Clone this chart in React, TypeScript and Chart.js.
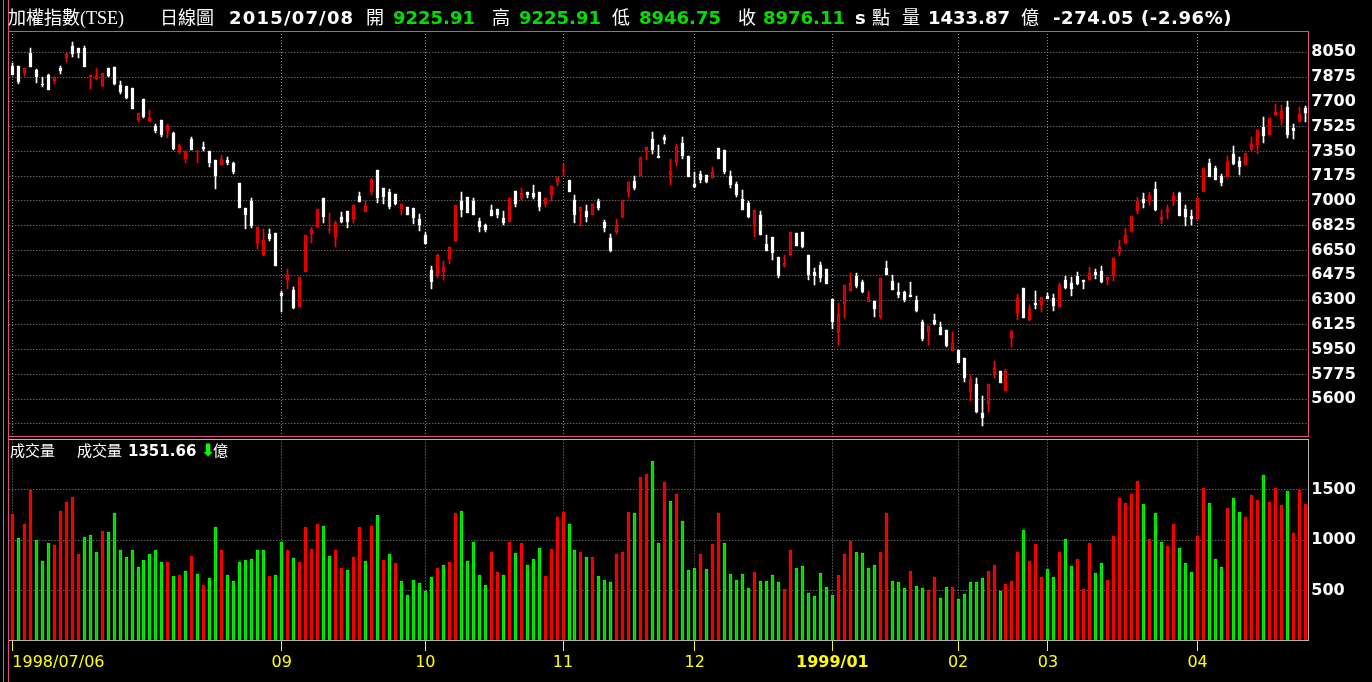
import React, { useEffect, useRef } from 'react';
import { Chart, registerables } from 'chart.js';

Chart.register(...registerables);

// ---- Daily OHLC of 加權指數 (TSE), 1998/07/06 .. 1999/04 ----
const openPx = [
  7953, 7953, 7906, 8047, 7925, 7819, 7890, 7850, 7939, 8012,
  8094, 8078, 8078, 7874, 7861, 7812, 7939, 7949, 7819, 7812,
  7798, 7572, 7720, 7567, 7530, 7572, 7497, 7480, 7356, 7299,
  7440, 7346, 7384, 7353, 7290, 7257, 7292, 7268, 7127, 6951,
  7000, 6706, 6617, 6767, 6774, 6351, 6445, 6372, 6249, 6501,
  6769, 6819, 7019, 6795, 6744, 6888, 6928, 6873, 7035, 6925,
  7064, 7219, 7092, 7064, 7050, 6944, 6958, 6951, 6873, 6760,
  6513, 6471, 6499, 6591, 6718, 7000, 7028, 7000, 6859, 6831,
  6937, 6944, 6880, 6854, 7071, 7021, 7064, 7057, 7064, 6979,
  7042, 7134, 7214, 7150, 7007, 6929, 6929, 6904, 7000, 6852,
  6739, 6781, 6887, 7064, 7141, 7177, 7360, 7438, 7318, 7452,
  7184, 7275, 7410, 7318, 7120, 7191, 7184, 7162, 7374, 7360,
  7177, 7120, 7014, 6986, 6838, 6901, 6696, 6746, 6605, 6541,
  6619, 6774, 6779, 6619, 6499, 6548, 6520, 6308, 6075, 6273,
  6365, 6471, 6428, 6287, 6294, 6181, 6527, 6435, 6358, 6358,
  6336, 6301, 6146, 6075, 6160, 6110, 6089, 5941, 5948, 5892,
  5651, 5708, 5503, 5567, 5779, 5800, 5659, 6033, 6209, 6386,
  6160, 6280, 6266, 6329, 6315, 6252, 6442, 6421, 6471, 6442,
  6442, 6499, 6506, 6442, 6471, 6640, 6704, 6788, 6929, 7014,
  7000, 7085, 6866, 6922, 7000, 7057, 6944, 6894, 6873, 7064,
  7268, 7233, 7177, 7170, 7332, 7282, 7254, 7360, 7398, 7525,
  7468, 7610, 7581, 7661, 7516, 7560, 7657,
];
const highPx = [
  7972, 7953, 7937, 8080, 7930, 7873, 7897, 7873, 7953, 8043,
  8123, 8078, 8094, 7888, 7942, 7906, 7939, 7949, 7850, 7812,
  7798, 7619, 7720, 7643, 7544, 7572, 7544, 7487, 7403, 7351,
  7452, 7360, 7417, 7353, 7290, 7322, 7311, 7276, 7127, 6951,
  7021, 6819, 6802, 6802, 6774, 6367, 6522, 6393, 6461, 6760,
  6819, 6941, 7019, 6915, 6857, 6922, 6928, 6972, 7064, 7000,
  7162, 7219, 7092, 7082, 7050, 6979, 6958, 6951, 6908, 6781,
  6541, 6626, 6577, 6675, 6972, 7064, 7028, 7021, 6880, 6838,
  6972, 6944, 6930, 7021, 7071, 7092, 7064, 7113, 7064, 7021,
  7106, 7170, 7261, 7150, 7042, 6958, 6972, 6979, 7014, 6866,
  6767, 6873, 7007, 7134, 7177, 7311, 7381, 7487, 7395, 7466,
  7297, 7403, 7452, 7318, 7205, 7212, 7184, 7240, 7374, 7360,
  7212, 7134, 7078, 7000, 6937, 6929, 6760, 6746, 6605, 6619,
  6781, 6774, 6779, 6619, 6527, 6569, 6520, 6308, 6280, 6407,
  6492, 6492, 6442, 6365, 6294, 6456, 6576, 6478, 6421, 6365,
  6428, 6329, 6160, 6117, 6202, 6146, 6089, 6075, 5948, 5892,
  5771, 5750, 5623, 5708, 5870, 5800, 5814, 6089, 6343, 6386,
  6266, 6365, 6322, 6350, 6343, 6421, 6471, 6464, 6499, 6442,
  6534, 6520, 6541, 6464, 6598, 6725, 6809, 6894, 7028, 7057,
  7064, 7134, 6936, 6972, 7064, 7064, 6972, 6936, 7021, 7233,
  7297, 7247, 7191, 7318, 7388, 7311, 7339, 7452, 7501, 7591,
  7584, 7685, 7676, 7704, 7544, 7661, 7671,
];
const lowPx = [
  7890, 7829, 7885, 7949, 7836, 7803, 7784, 7826, 7897, 7982,
  8019, 8010, 7949, 7793, 7854, 7807, 7873, 7821, 7756, 7720,
  7650, 7558, 7588, 7567, 7480, 7454, 7447, 7362, 7332, 7268,
  7360, 7268, 7356, 7243, 7087, 7257, 7257, 7193, 6953, 6802,
  6812, 6664, 6612, 6720, 6544, 6216, 6381, 6235, 6249, 6501,
  6706, 6819, 6843, 6777, 6678, 6842, 6812, 6842, 6993, 6925,
  7042, 6988, 6981, 6946, 6972, 6904, 6901, 6838, 6788, 6697,
  6379, 6459, 6442, 6555, 6718, 6887, 6915, 6901, 6781, 6781,
  6894, 6880, 6831, 6854, 6958, 7007, 7021, 7014, 6930, 6958,
  7000, 7106, 7177, 7061, 6847, 6826, 6852, 6904, 6937, 6781,
  6640, 6767, 6880, 7028, 7078, 7177, 7290, 7332, 7304, 7403,
  7113, 7247, 7297, 7170, 7092, 7127, 7127, 7162, 7297, 7191,
  7092, 7028, 6937, 6880, 6746, 6760, 6647, 6583, 6456, 6534,
  6612, 6682, 6666, 6442, 6407, 6428, 6414, 6096, 5983, 6174,
  6365, 6386, 6350, 6287, 6181, 6167, 6478, 6372, 6315, 6287,
  6322, 6216, 6012, 5983, 6125, 6054, 5969, 5941, 5856, 5722,
  5588, 5503, 5411, 5510, 5750, 5715, 5659, 5969, 6160, 6174,
  6150, 6238, 6216, 6308, 6223, 6252, 6379, 6329, 6407, 6379,
  6442, 6449, 6421, 6407, 6435, 6612, 6696, 6781, 6908, 6951,
  6972, 6929, 6838, 6873, 6965, 6894, 6824, 6831, 6873, 7064,
  7170, 7148, 7106, 7170, 7254, 7184, 7254, 7360, 7332, 7412,
  7468, 7610, 7534, 7445, 7440, 7560, 7558,
];
const closePx = [
  7890, 7838, 7937, 7949, 7878, 7817, 7784, 7873, 7916, 8038,
  8039, 8047, 7949, 7886, 7883, 7902, 7883, 7826, 7770, 7725,
  7650, 7619, 7593, 7589, 7494, 7466, 7530, 7370, 7388, 7351,
  7360, 7351, 7367, 7271, 7179, 7297, 7271, 7205, 6953, 6904,
  6822, 6816, 6725, 6732, 6544, 6332, 6473, 6247, 6461, 6760,
  6800, 6941, 6890, 6802, 6842, 6853, 6850, 6972, 6993, 6965,
  7148, 7024, 7028, 6958, 6978, 6975, 6901, 6880, 6831, 6697,
  6431, 6619, 6534, 6675, 6972, 6937, 6915, 6901, 6817, 6795,
  6894, 6901, 6845, 7021, 6979, 7057, 7042, 7028, 6958, 7021,
  7106, 7170, 7219, 7062, 6901, 6958, 6887, 6979, 6951, 6809,
  6647, 6831, 7007, 7134, 7092, 7304, 7381, 7360, 7304, 7431,
  7212, 7381, 7318, 7170, 7099, 7148, 7134, 7205, 7297, 7205,
  7113, 7042, 6937, 6887, 6937, 6760, 6647, 6633, 6471, 6562,
  6781, 6682, 6678, 6478, 6471, 6456, 6414, 6146, 6202, 6407,
  6421, 6400, 6358, 6322, 6238, 6456, 6478, 6372, 6336, 6301,
  6322, 6223, 6026, 6117, 6132, 6054, 5976, 5997, 5856, 5748,
  5740, 5510, 5468, 5708, 5821, 5715, 5800, 6075, 6315, 6174,
  6235, 6266, 6322, 6308, 6259, 6407, 6386, 6379, 6414, 6428,
  6492, 6478, 6428, 6464, 6598, 6675, 6760, 6894, 7000, 6986,
  7042, 6937, 6887, 6944, 7035, 6894, 6889, 6873, 7021, 7233,
  7170, 7148, 7127, 7275, 7261, 7240, 7339, 7403, 7501, 7459,
  7584, 7629, 7634, 7464, 7492, 7612, 7624,
];
// 成交量 (億)
const volumeYi = [
  1265, 1018, 1166, 1503, 1005, 790, 968, 949, 1295, 1384,
  1434, 860, 1028, 1048, 879, 1087, 1077, 1275, 899, 830,
  899, 731, 800, 860, 899, 780, 780, 642, 652, 691,
  840, 662, 553, 622, 1127, 899, 652, 592, 780, 800,
  810, 899, 899, 642, 652, 978, 899, 820, 780, 1127,
  909, 1166, 1137, 840, 899, 721, 701, 830, 1127, 790,
  1137, 1246, 800, 860, 770, 592, 454, 602, 572, 493,
  632, 721, 751, 780, 1275, 1295, 790, 978, 652, 553,
  879, 681, 652, 978, 869, 968, 751, 810, 919, 642,
  909, 1226, 1285, 1166, 899, 879, 830, 830, 642, 602,
  582, 860, 879, 1285, 1275, 1632, 1661, 1790, 968, 1582,
  1394, 1463, 1196, 701, 721, 860, 711, 958, 1275, 968,
  662, 602, 662, 523, 681, 592, 592, 652, 582, 513,
  899, 721, 741, 473, 444, 671, 533, 454, 652, 860,
  988, 879, 869, 721, 751, 879, 1275, 592, 582, 523,
  691, 543, 523, 503, 632, 424, 533, 533, 414, 464,
  582, 582, 622, 691, 751, 493, 563, 592, 879, 1097,
  790, 959, 632, 711, 632, 879, 1008, 741, 810, 513,
  968, 671, 770, 602, 1038, 1424, 1374, 1463, 1592, 1364,
  1008, 1275, 978, 939, 1166, 919, 770, 681, 1038, 1523,
  1374, 810, 731, 1325, 1424, 1285, 1226, 1454, 1404, 1651,
  1384, 1523, 1345, 1493, 1067, 1503, 1355,
];
const prevClose = 7870; // close of the day before the first bar

const priceTicks = [5425, 5600, 5775, 5950, 6125, 6300, 6475, 6650, 6825, 7000, 7175, 7350, 7525, 7700, 7875, 8050];
const priceTickLabels = ['', '5600', '5775', '5950', '6125', '6300', '6475', '6650', '6825', '7000', '7175', '7350', '7525', '7700', '7875', '8050'];
const volumeTicks = [500, 1000, 1500];
const volumeTickLabels = ['500', '1000', '1500'];
const monthTickIndex = [0, 45, 69, 92, 114, 137, 158, 173, 198];
const monthTickLabels = ['1998/07/06', '09', '10', '11', '12', '1999/01', '02', '03', '04'];
const boldMonthLabel = '1999/01';
const priceRange = [5340, 8200];
const volumeRange = [0, 2000];

const RED = '#ff0000';
const RED_FILL = '#b00000';
const WHITE = '#ffffff';
const VOL_RED_FILL = '#e80000';
const VOL_GREEN = '#00ff00';
const VOL_GREEN_FILL = '#00cc00';
const GRID = '#8c8c8c';
const YELLOW = '#ffff00';
const TXT_GREEN = '#00e000';
const PINK = '#e24a86';
const CLEAR = 'rgba(0,0,0,0)';

const NUM_FONT = "'DejaVu Sans', Verdana, sans-serif";
const CJK_FONT = "'Noto Sans CJK TC', 'Noto Sans CJK SC', sans-serif";
const SERIF_FONT = "'Liberation Serif', 'DejaVu Serif', serif";

// Snap bar elements (placed by the scales) onto whole device pixels for crisp candles.
const snapBars = {
  id: 'snapBars',
  afterDatasetsUpdate(chart: any) {
    chart.data.datasets.forEach((_: any, di: number) => {
      chart.getDatasetMeta(di).data.forEach((el: any) => {
        el.x = Math.floor(el.x) + 0.5;
        const y = Math.round(el.y);
        let base = Math.round(el.base);
        if (base === y) base = y + 1;
        el.y = y;
        el.base = base;
      });
    });
  },
};

function Seg({ w, style, children }: { w?: number; style?: React.CSSProperties; children?: React.ReactNode }) {
  return <span style={{ display: 'inline-block', width: w, ...style }}>{children}</span>;
}

export default function App() {
  const priceRef = useRef<HTMLCanvasElement | null>(null);
  const volRef = useRef<HTMLCanvasElement | null>(null);

  useEffect(() => {
    const labels = closePx.map((_, i) => String(i));
    const up = closePx.map((c, i) => c > openPx[i]);
    const volUp = closePx.map((c, i) => c >= (i === 0 ? prevClose : closePx[i - 1]));
    const isMonth = (ctx: any) => monthTickIndex.includes(ctx.index);
    const yFont = { family: NUM_FONT, size: 16, weight: 'bold' as const };

    const price = new Chart(priceRef.current as HTMLCanvasElement, {
      type: 'bar',
      data: {
        labels,
        datasets: [
          {
            label: 'body',
            data: openPx.map((o, i) => [Math.min(o, closePx[i]), Math.max(o, closePx[i])]) as any,
            backgroundColor: up.map((u) => (u ? RED_FILL : WHITE)),
            borderColor: up.map((u) => (u ? RED : WHITE)),
            borderWidth: 1,
            borderSkipped: false,
            barThickness: 3,
            minBarLength: 1,
            grouped: false,
            order: 0,
          },
          {
            label: 'wick',
            data: lowPx.map((l, i) => [l, highPx[i]]) as any,
            backgroundColor: up.map((u) => (u ? RED : WHITE)),
            borderWidth: 0,
            barThickness: 1,
            grouped: false,
            order: 1,
          },
        ],
      },
      options: {
        responsive: false,
        animation: false,
        events: [],
        layout: { padding: { left: 9.3, right: 0, top: 31, bottom: 1 } },
        plugins: { legend: { display: false }, tooltip: { enabled: false } },
        scales: {
          x: {
            type: 'category',
            offset: true,
            grid: { offset: false, color: (ctx: any) => (isMonth(ctx) ? GRID : CLEAR), lineWidth: 1, drawTicks: false },
            border: { display: false, dash: [1, 2] },
            ticks: { display: false },
            afterFit: (s: any) => { s.height = 0; s.paddingLeft = 0; s.paddingRight = 0; },
          },
          y: {
            position: 'right',
            min: priceRange[0],
            max: priceRange[1],
            afterBuildTicks: (s: any) => { s.ticks = priceTicks.map((v) => ({ value: v })); },
            grid: { color: GRID, lineWidth: 1, drawTicks: false },
            border: { display: false, dash: [1, 2] },
            ticks: {
              color: WHITE,
              font: yFont,
              padding: 3,
              callback: (v: any) => priceTickLabels[priceTicks.indexOf(Number(v))] ?? '',
            },
            afterFit: (s: any) => { s.width = 63.7; s.paddingTop = 0; s.paddingBottom = 0; },
          },
        },
      } as any,
      plugins: [snapBars],
    });

    const vol = new Chart(volRef.current as HTMLCanvasElement, {
      type: 'bar',
      data: {
        labels,
        datasets: [
          {
            label: '成交量',
            data: volumeYi,
            backgroundColor: volUp.map((u) => (u ? VOL_RED_FILL : VOL_GREEN_FILL)),
            borderColor: volUp.map((u) => (u ? RED : VOL_GREEN)),
            borderWidth: 1,
            borderSkipped: false,
            barThickness: 3,
          },
        ],
      },
      options: {
        responsive: false,
        animation: false,
        events: [],
        layout: { padding: { left: 9.3, right: 0, top: 2.5, bottom: 0 } },
        plugins: { legend: { display: false }, tooltip: { enabled: false } },
        scales: {
          x: {
            type: 'category',
            offset: true,
            grid: {
              offset: false,
              color: (ctx: any) => (isMonth(ctx) ? GRID : CLEAR),
              tickColor: (ctx: any) => (isMonth(ctx) ? YELLOW : CLEAR),
              tickLength: 10,
              tickWidth: 1,
              tickBorderDash: [],
              drawTicks: true,
              lineWidth: 1,
            },
            border: { display: false, dash: [1, 2] },
            ticks: {
              autoSkip: false,
              maxRotation: 0,
              minRotation: 0,
              align: 'inner',
              padding: 2,
              color: YELLOW,
              font: (ctx: any) => {
                const k = monthTickIndex.indexOf(ctx.index);
                return { family: NUM_FONT, size: 16, weight: k >= 0 && monthTickLabels[k] === boldMonthLabel ? 'bold' : 'normal' };
              },
              callback: (v: any) => {
                const k = monthTickIndex.indexOf(Number(v));
                return k >= 0 ? monthTickLabels[k] : '';
              },
            },
            afterFit: (s: any) => { s.height = 41; s.paddingLeft = 0; s.paddingRight = 0; },
          },
          y: {
            position: 'right',
            min: volumeRange[0],
            max: volumeRange[1],
            afterBuildTicks: (s: any) => { s.ticks = volumeTicks.map((v) => ({ value: v })); },
            grid: { color: GRID, lineWidth: 1, drawTicks: false },
            border: { display: false, dash: [1, 2] },
            ticks: {
              color: WHITE,
              font: yFont,
              padding: 3,
              callback: (v: any) => volumeTickLabels[volumeTicks.indexOf(Number(v))] ?? '',
            },
            afterFit: (s: any) => { s.width = 63.7; s.paddingTop = 0; s.paddingBottom = 0; },
          },
        },
      } as any,
      plugins: [snapBars],
    });

    return () => {
      price.destroy();
      vol.destroy();
    };
  }, []);

  const cjk18: React.CSSProperties = { fontFamily: CJK_FONT, fontSize: 18 };
  const num18: React.CSSProperties = { fontFamily: NUM_FONT, fontSize: 18, fontWeight: 'bold' };
  const grn18: React.CSSProperties = { ...num18, color: TXT_GREEN };
  const cjk15: React.CSSProperties = { fontFamily: CJK_FONT, fontSize: 15 };
  const num15: React.CSSProperties = { fontFamily: NUM_FONT, fontSize: 15, fontWeight: 'bold' };

  return (
    <div style={{ position: 'fixed', left: 0, top: 0, width: 1372, height: 682, background: '#000', overflow: 'hidden' }}>
      <canvas ref={priceRef} width={1372} height={437} style={{ position: 'absolute', left: 0, top: 0 }} />
      <canvas ref={volRef} width={1372} height={245} style={{ position: 'absolute', left: 0, top: 437 }} />

      {/* panel frames */}
      <div style={{ position: 'absolute', left: 3, top: 0, width: 1, height: 682, background: '#14a8a8' }} />
      <div style={{ position: 'absolute', left: 8, top: 0, width: 1, height: 682, background: PINK }} />
      <div style={{ position: 'absolute', left: 8, top: 31, width: 1301, height: 406, boxSizing: 'border-box', border: `1px solid ${PINK}` }} />
      <div style={{ position: 'absolute', left: 9, top: 439, width: 1300, height: 202, boxSizing: 'border-box', borderTop: '1px solid #b4b4b4', borderRight: '1px solid #b4b4b4', borderBottom: '1px solid #b4b4b4' }} />

      {/* title row */}
      <div style={{ position: 'absolute', left: 0, top: 5, paddingLeft: 8, whiteSpace: 'nowrap', color: '#fff', fontSize: 18, lineHeight: '22px' }}>
        <Seg w={152}><span style={cjk18}>加權指數</span><span style={{ fontFamily: SERIF_FONT, fontSize: 18 }}>(TSE)</span></Seg>
        <Seg w={69} style={cjk18}>日線圖</Seg>
        <Seg w={137} style={{ ...num18, letterSpacing: '1.2px' }}>2015/07/08</Seg>
        <Seg w={27} style={cjk18}>開</Seg>
        <Seg w={99} style={grn18}>9225.91</Seg>
        <Seg w={27} style={cjk18}>高</Seg>
        <Seg w={93} style={grn18}>9225.91</Seg>
        <Seg w={27} style={cjk18}>低</Seg>
        <Seg w={99} style={grn18}>8946.75</Seg>
        <Seg w={25} style={cjk18}>收</Seg>
        <Seg w={92} style={grn18}>8976.11</Seg>
        <Seg w={17} style={num18}>s</Seg>
        <Seg w={30} style={cjk18}>點</Seg>
        <Seg w={26} style={cjk18}>量</Seg>
        <Seg w={93} style={num18}>1433.87</Seg>
        <Seg w={32} style={cjk18}>億</Seg>
        <Seg w={200} style={{ ...num18, letterSpacing: '0.6px' }}>-274.05 (-2.96%)</Seg>
      </div>

      {/* volume header */}
      <div style={{ position: 'absolute', left: 0, top: 441, paddingLeft: 10, whiteSpace: 'nowrap', color: '#fff', fontSize: 15, lineHeight: '18px' }}>
        <Seg w={67} style={cjk15}>成交量</Seg>
        <Seg w={51} style={cjk15}>成交量</Seg>
        <Seg w={73} style={num15}>1351.66</Seg>
        <Seg w={12} style={{ fontFamily: NUM_FONT, fontSize: 17, fontWeight: 'bold', color: VOL_GREEN, lineHeight: '18px' }}>⬇</Seg>
        <Seg style={cjk15}>億</Seg>
      </div>
    </div>
  );
}
